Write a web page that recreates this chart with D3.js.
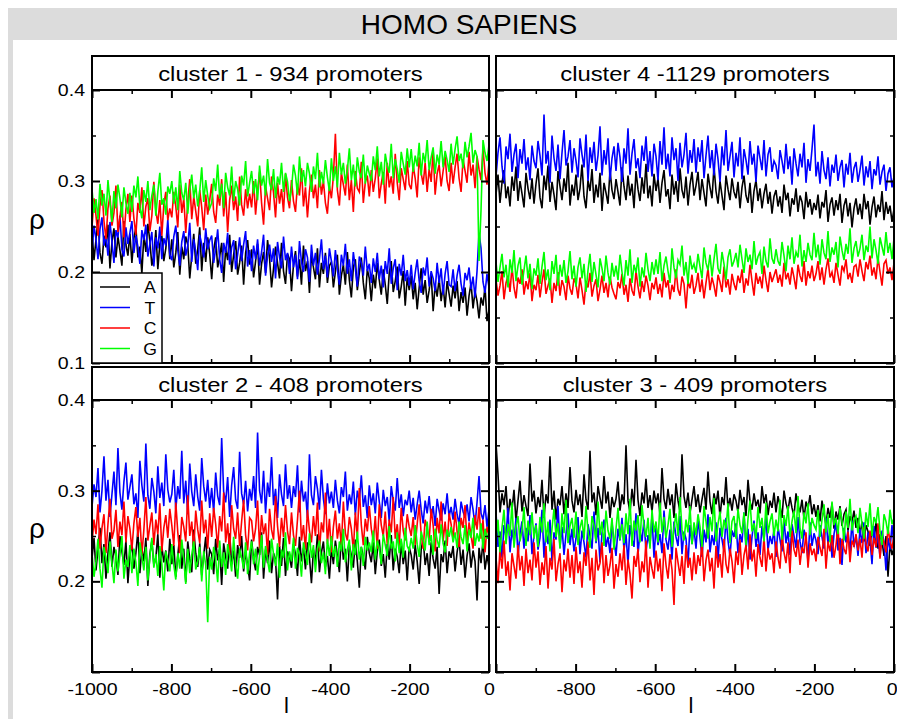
<!DOCTYPE html>
<html><head><meta charset="utf-8">
<script src="https://cdn.jsdelivr.net/npm/d3@7"></script>
<style>
body{margin:0;background:#fff}
svg{display:block}
text{font-family:"Liberation Sans",Arial,Helvetica,sans-serif;fill:#000}
</style>
</head><body>
<svg id="chart" width="897" height="719"></svg>
<script>
// ---------------- DATA (ρ values ×1000, positions l from -1000 to 0) ----------------
const mainTitle = "HOMO SAPIENS";
const nucleotides = ["A", "T", "C", "G"];
const seriesColors = ["#000000", "#0000ff", "#ff0000", "#00ff00"];
const panelTitles = ["cluster 1 - 934 promoters", "cluster 4 -1129 promoters", "cluster 2 - 408 promoters", "cluster 3 - 409 promoters"];
const xMajorTicks = [-1000, -800, -600, -400, -200, 0];
const xMinorTicks = [-900, -700, -500, -300, -100];
const yMajorTicks = [0.1, 0.2, 0.3, 0.4];
const yMinorTicks = [0.15, 0.25, 0.35];
const xDomain = [-1000, 0];
const yDomain = [0.1, 0.4];

const cluster1_A = [
245,213,236,258,221,209,240,227,252,204,233,248,216,239,224,207,256,230,218,242,
210,237,249,216,228,198,241,222,253,234,207,219,246,203,231,240,212,226,250,214,
236,205,221,244,197,228,214,239,230,193,218,242,209,225,249,201,232,211,238,220,
192,224,238,205,217,232,189,226,213,241,200,219,234,197,210,229,186,221,235,208,
225,194,212,231,186,209,222,199,235,215,183,204,228,210,193,232,201,187,220,214,
179,208,223,195,214,186,229,201,212,177,219,205,192,226,183,210,198,221,188,207,
211,183,200,219,175,196,208,186,222,191,172,205,214,180,199,216,188,170,203,193,
168,197,182,210,191,175,203,186,165,199,212,178,190,206,171,184,201,163,194,180,
196,170,188,159,183,204,175,191,166,180,198,157,186,173,193,168,185,161,190,176,
162,185,171,190,157,178,166,183,152,174,188,160,179,168,149,172,163,184,146,158];
const cluster1_T = [
222,251,236,214,247,260,229,241,218,255,233,210,246,238,262,225,217,249,231,243,
256,221,240,228,209,246,235,252,217,231,244,206,238,226,250,214,237,229,258,219,
213,239,251,224,207,233,245,218,229,254,211,236,222,202,241,230,216,248,225,235,
240,210,226,247,214,199,232,221,243,208,227,235,203,219,238,212,230,245,206,224,
201,229,214,236,207,222,241,196,218,230,211,226,193,233,216,204,239,213,221,198,
228,205,219,192,234,211,200,225,216,189,230,207,221,197,214,236,203,218,194,226,
212,195,224,203,186,219,207,231,198,214,190,222,204,184,217,210,196,228,201,209,
188,215,200,221,192,207,183,212,198,226,187,204,214,180,209,196,219,190,202,185,
208,181,199,214,190,177,205,196,216,184,201,193,179,210,188,204,175,198,212,186,
184,203,179,196,208,187,174,199,191,205,181,195,172,201,243,226,189,177,198,183];
const cluster1_C = [
249,281,262,240,273,290,256,236,270,284,251,265,295,244,260,277,238,269,286,255,
284,259,241,276,265,293,250,272,281,245,262,299,267,253,279,240,274,288,257,270,
260,288,272,249,296,265,281,243,276,302,258,283,267,250,290,271,246,285,263,279,
297,266,254,285,273,302,261,288,244,279,295,268,283,256,305,274,262,291,270,286,
271,300,263,289,310,276,252,294,281,268,305,287,260,298,275,291,266,308,282,270,
301,278,266,297,284,314,272,293,260,289,307,281,296,270,312,285,300,276,264,295,
281,305,352,290,273,309,296,284,318,279,301,266,311,292,288,321,276,299,306,283,
312,288,303,325,281,297,310,275,320,293,305,286,330,298,279,314,302,290,322,296,
291,317,303,282,326,309,296,320,288,313,299,334,285,308,318,294,311,327,300,289,
320,297,315,330,303,288,324,311,298,332,306,318,292,327,313,301,335,309,296,320];
const cluster1_G = [
291,265,280,258,297,273,286,262,301,277,255,289,270,296,281,260,293,276,264,287,
266,295,282,305,271,259,290,277,300,268,284,296,262,288,309,274,281,263,294,286,
300,275,293,268,311,287,279,298,264,290,307,281,296,272,289,315,277,301,284,270,
276,303,289,318,281,297,270,309,293,284,316,278,300,291,273,306,295,322,283,298,
311,286,302,279,317,295,306,284,324,298,290,313,281,305,296,320,288,309,299,278,
291,318,306,285,327,299,312,294,320,308,288,316,302,331,293,310,297,323,304,289,
325,300,316,293,331,307,320,297,312,336,301,318,294,326,310,303,329,297,317,308,
300,327,312,338,305,321,296,330,317,309,341,303,324,313,298,332,319,307,336,315,
335,310,328,316,342,306,331,320,345,312,326,337,308,329,318,344,315,333,323,310,
341,318,335,349,322,330,314,343,326,338,353,320,334,327,212,268,345,331,322,340];

const cluster4_A = [
285,307,276,298,312,281,294,272,305,289,316,278,300,286,271,309,292,280,303,275,
297,314,282,270,306,290,317,277,299,285,268,311,294,279,303,288,320,273,296,284,
307,279,292,318,283,270,301,289,313,276,296,282,309,267,298,287,275,312,290,280,
302,288,273,315,294,279,306,284,297,270,311,291,278,304,286,319,281,295,272,308,
289,303,276,298,312,283,291,269,307,285,300,277,314,290,281,305,273,296,310,284,
295,310,279,302,287,272,308,293,281,316,289,275,300,284,268,306,291,279,303,288,
281,299,270,293,306,284,276,298,265,289,301,278,292,270,286,297,275,288,264,283,
290,272,283,265,296,279,287,261,281,274,292,266,284,277,258,288,271,280,263,276,
268,285,259,277,271,290,255,274,282,262,279,268,286,254,273,281,261,276,249,270,
281,263,275,258,286,269,278,252,271,283,260,274,266,289,257,277,264,273,255,269];
const cluster4_T = [
305,331,348,316,297,338,324,352,310,329,341,303,335,319,346,312,326,301,339,322,
314,344,328,306,373,319,333,298,350,325,311,340,302,331,356,317,327,345,309,336,
322,304,347,329,315,351,300,337,320,343,311,328,360,306,334,318,347,301,325,338,
311,342,326,299,336,319,358,307,330,346,314,325,303,339,322,349,310,333,305,341,
327,301,344,318,359,313,330,305,348,323,336,300,342,315,329,353,308,334,320,346,
309,337,321,345,303,328,350,314,334,306,341,324,299,338,317,356,311,327,343,304,
331,316,348,302,335,323,307,344,318,330,299,339,325,312,345,305,329,337,310,322,
317,302,334,322,308,341,313,327,296,336,319,305,330,315,342,298,324,311,335,362,
305,321,297,333,312,302,326,294,318,309,329,300,315,323,293,319,307,331,298,314,
321,299,312,328,295,316,304,322,291,313,306,327,296,310,318,289,308,315,293,305];
const cluster4_C = [
192,174,185,201,170,188,196,178,206,183,171,194,187,203,175,190,181,199,168,186,
180,197,172,189,203,176,185,193,166,188,179,200,174,191,184,169,196,182,175,193,
187,171,194,180,164,190,183,199,173,185,192,168,181,196,177,188,172,195,183,176,
170,189,182,198,175,186,167,193,180,174,201,184,171,190,178,196,185,169,188,181,
194,176,187,172,199,183,191,170,186,178,203,181,174,195,187,160,190,182,197,176,
185,199,178,192,171,188,204,180,194,185,173,197,189,178,206,183,192,175,198,187,
180,196,188,203,177,193,185,208,190,174,199,187,195,182,207,191,178,200,189,196,
203,188,197,184,210,192,199,186,205,194,181,208,196,189,212,185,201,193,207,190,
198,212,191,205,186,203,215,194,200,188,210,197,185,207,201,214,192,199,188,206,
208,195,214,201,190,211,203,218,196,205,192,216,200,185,209,213,198,205,191,210];
const cluster4_G = [
211,189,205,220,194,208,183,214,199,224,190,207,216,186,202,218,193,209,181,204,
196,215,187,206,222,191,203,180,212,198,219,185,208,195,213,188,201,223,192,207,
184,205,216,193,209,178,202,220,189,211,197,183,215,204,190,218,199,186,210,195,
207,191,219,200,185,213,196,225,188,208,199,216,184,205,194,221,203,190,211,197,
214,198,222,190,207,217,201,188,226,205,193,213,208,229,196,211,187,218,203,209,
199,220,206,193,227,210,202,219,195,214,231,204,198,222,209,191,216,225,206,212,
221,205,230,214,199,226,211,219,203,234,208,217,222,198,228,212,205,237,215,209,
225,212,207,233,218,201,229,214,238,209,222,216,241,206,224,211,232,219,213,243,
216,230,208,236,221,214,245,211,227,219,233,205,239,224,213,231,220,248,210,226,
234,217,226,241,213,229,222,250,215,236,224,209,238,228,218,244,221,232,214,237];

const cluster2_A = [
225,248,212,236,259,220,241,203,231,254,216,238,227,207,250,233,218,245,198,229,
243,214,231,256,209,237,222,248,195,230,245,218,226,252,204,239,221,234,211,247,
219,240,205,228,251,214,236,199,244,225,210,257,231,216,242,207,229,249,213,235,
230,208,247,223,236,196,242,227,214,253,219,234,205,240,226,250,211,232,218,201,
246,224,212,238,229,254,203,235,220,245,209,231,224,180,239,217,248,206,233,227,
215,241,230,206,249,222,237,213,243,226,198,235,221,252,210,232,244,216,228,203,
237,219,245,228,210,251,224,236,200,240,229,215,246,222,193,238,226,213,249,231,
221,243,208,233,246,217,230,204,241,224,251,212,236,227,209,244,219,234,201,238,
229,213,240,222,197,235,247,218,231,206,243,225,214,238,186,230,221,245,209,233,
226,239,211,232,247,218,235,204,228,242,215,234,222,179,237,220,245,213,229,216];
const cluster2_T = [
282,307,293,325,276,300,338,289,312,271,296,321,284,347,298,279,310,331,290,304,
318,285,297,270,333,306,288,352,295,280,314,299,275,327,292,309,283,340,301,287,
296,323,279,305,291,344,286,311,274,330,299,283,318,293,278,336,305,288,312,281,
303,276,320,294,284,358,299,287,315,271,306,326,290,280,343,297,285,311,277,302,
289,316,281,364,300,286,322,275,309,293,337,284,302,270,318,296,283,329,291,306,
281,305,293,328,276,311,288,299,270,340,295,284,316,302,279,323,291,274,308,286,
299,281,312,289,275,304,293,321,278,296,285,310,273,300,288,317,282,295,270,306,
284,297,275,309,288,270,301,283,293,266,305,289,278,314,281,296,272,290,284,300,
276,292,268,285,300,279,264,289,275,294,270,283,261,291,278,267,286,274,297,271,
282,268,291,274,263,288,277,270,285,266,293,279,262,287,316,275,268,284,260,279];
const cluster2_C = [
241,268,252,285,236,259,274,231,263,291,247,256,279,238,266,251,288,243,272,258,
235,264,282,249,270,229,257,293,245,261,276,240,268,252,286,233,259,273,248,280,
262,239,287,254,231,271,260,244,295,250,266,235,278,257,242,289,253,268,236,275,
249,281,263,237,272,255,298,243,264,230,284,258,247,276,239,266,290,251,234,270,
267,244,258,289,236,273,252,264,229,280,257,246,294,261,238,270,249,284,255,241,
276,251,239,268,300,245,262,235,279,256,243,272,250,287,233,265,254,298,241,269,
232,260,278,247,264,239,288,253,245,271,258,234,276,249,303,262,240,269,255,283,
258,244,272,236,285,262,250,277,241,268,254,293,247,263,238,281,256,245,274,260,
250,271,240,263,285,252,236,268,258,245,280,262,233,270,253,288,244,266,239,275,
263,246,277,255,238,270,259,284,242,265,251,236,273,257,282,247,268,232,260,251];
const cluster2_G = [
231,205,222,247,214,193,238,226,209,244,220,198,235,211,229,250,203,224,216,240,
209,236,221,195,243,228,212,238,201,226,248,215,230,206,239,219,190,233,224,211,
241,218,202,231,214,246,225,197,236,209,229,244,213,222,238,200,233,218,155,227,
213,238,224,199,245,216,232,207,241,228,211,249,220,203,236,226,214,243,208,231,
244,219,236,207,228,251,215,239,223,210,247,230,217,242,204,235,226,254,212,233,
222,248,214,237,229,205,243,231,218,253,226,240,210,236,245,220,232,208,247,228,
250,227,239,216,244,233,258,221,235,246,212,241,229,255,224,238,217,249,234,243,
232,256,224,245,237,219,252,240,228,261,236,244,222,254,231,247,226,259,239,234,
248,236,262,241,227,255,245,234,266,240,251,229,258,246,237,263,242,232,257,249,
260,243,254,237,266,249,241,262,233,257,248,270,239,253,244,264,236,258,247,255];

const cluster3_A = [
352,318,276,297,284,305,270,291,279,301,266,289,311,277,295,283,272,330,288,300,
275,293,282,312,270,296,286,338,279,300,268,291,284,305,274,297,281,326,289,276,
301,284,296,271,318,290,279,344,287,298,273,305,292,280,316,286,299,270,293,282,
291,310,278,296,285,350,289,276,302,283,334,290,272,298,286,313,281,295,277,300,
286,297,273,325,291,280,302,284,296,270,308,289,277,340,294,281,298,275,290,305,
282,296,276,290,303,279,321,288,274,297,285,300,271,293,284,315,280,292,278,296,
289,276,301,284,293,272,312,288,279,297,283,290,275,305,286,296,273,289,281,298,
276,294,283,270,300,286,278,293,281,272,297,284,276,290,269,288,280,295,274,285,
271,284,266,289,275,262,281,270,286,258,277,268,283,261,274,279,256,272,265,278,
259,270,251,266,244,262,255,239,258,247,265,236,252,244,228,250,205,241,229,238];
const cluster3_T = [
276,238,255,226,262,249,281,232,257,243,270,228,252,266,236,259,244,273,230,251,
264,235,248,279,226,256,241,268,222,254,246,283,237,260,229,252,275,240,258,233,
247,271,230,256,243,226,263,250,236,277,242,259,221,253,268,238,249,231,265,244,
228,258,245,270,234,252,219,262,247,238,275,229,256,244,268,233,251,240,273,226,
261,240,252,231,278,246,235,257,224,266,249,239,272,230,255,247,218,262,241,258,
236,269,248,227,257,243,274,232,251,240,265,222,259,246,233,270,245,228,256,249,
264,231,252,243,276,235,258,224,249,267,238,254,229,261,245,272,234,250,241,257,
227,260,246,233,268,242,255,229,263,250,237,271,244,231,257,248,222,265,239,253,
245,230,262,249,236,270,241,257,226,252,265,234,248,218,259,243,256,231,267,238,
250,228,258,242,265,231,254,246,219,261,237,250,227,256,243,212,248,235,262,240];
const cluster3_C = [
226,198,235,214,245,206,222,190,231,217,203,240,212,228,195,236,209,224,201,243,
215,233,196,221,207,239,192,226,213,247,200,219,231,188,224,211,236,204,229,197,
238,209,222,193,232,217,244,201,226,185,235,212,220,243,198,229,206,218,237,192,
219,205,231,212,240,196,224,208,181,228,216,236,199,222,210,245,193,227,214,203,
234,211,225,189,242,218,203,230,213,174,237,221,206,228,197,240,215,226,201,232,
208,229,217,244,200,223,235,211,226,192,239,215,230,204,247,219,209,236,222,198,
233,218,246,207,229,240,213,252,222,235,205,241,226,216,249,211,237,224,231,209,
244,226,214,251,232,220,243,209,256,235,227,246,218,238,231,254,215,242,229,236,
222,249,237,228,258,214,244,233,251,226,240,261,219,247,236,230,255,221,245,239,
252,234,247,226,260,241,233,256,229,248,238,264,225,250,243,232,259,244,236,251];
const cluster3_G = [
245,268,232,259,279,241,263,250,287,237,260,272,244,256,282,239,267,251,276,247,
262,238,271,254,286,243,266,233,258,280,249,264,236,275,253,290,242,261,270,248,
277,240,259,268,246,283,255,237,272,262,244,288,251,266,239,278,256,247,270,235,
258,281,246,263,242,275,252,291,239,267,256,273,243,284,261,249,270,236,279,254,
266,243,287,254,271,248,262,280,238,259,275,250,293,257,245,268,254,283,241,265,
251,274,260,238,283,266,247,271,255,292,244,263,277,249,268,258,286,242,266,272,
247,280,262,253,276,240,269,289,255,264,247,282,259,270,244,287,253,266,275,250,
268,255,290,246,273,261,283,249,266,278,253,294,259,247,276,264,286,251,270,262,
257,279,249,268,285,254,274,243,288,262,270,252,281,266,245,277,259,291,256,268,
272,253,281,263,247,276,260,286,250,271,264,282,255,240,274,266,252,279,263,270];

const panelSeries = [
  [cluster1_A, cluster1_T, cluster1_C, cluster1_G],
  [cluster4_A, cluster4_T, cluster4_C, cluster4_G],
  [cluster2_A, cluster2_T, cluster2_C, cluster2_G],
  [cluster3_A, cluster3_T, cluster3_C, cluster3_G]
];

// ---------------- LAYOUT ----------------
const W = 897, H = 719;
const cols = [{x0: 92, x1: 489}, {x0: 496, x1: 894}];
const rows = [{titleTop: 56, top: 90, bottom: 363}, {titleTop: 367, top: 400, bottom: 672}];
const panelPos = [{c: 0, r: 0}, {c: 1, r: 0}, {c: 0, r: 1}, {c: 1, r: 1}];

const svg = d3.select("#chart");
svg.append("rect").attr("x", 0).attr("y", 0).attr("width", W).attr("height", H).attr("fill", "#fff");
svg.append("rect").attr("x", 8).attr("y", 8).attr("width", W - 8).attr("height", H - 8).attr("fill", "#dcdcdc");
svg.append("rect").attr("x", 13).attr("y", 40).attr("width", W - 13).attr("height", H - 40).attr("fill", "#fff");

svg.append("text").attr("x", 469).attr("y", 34).attr("text-anchor", "middle")
  .attr("font-size", 28).attr("fill", "#111").text(mainTitle);

function stretch(sel, f) {
  sel.each(function () {
    const len = this.getComputedTextLength();
    if (len > 0) d3.select(this).attr("textLength", len * f).attr("lengthAdjust", "spacingAndGlyphs");
  });
}

const fmtY = d3.format(".1f");

panelPos.forEach((p, pi) => {
  const col = cols[p.c], row = rows[p.r];
  const x = d3.scaleLinear().domain(xDomain).range([col.x0, col.x1]);
  const y = d3.scaleLinear().domain(yDomain).range([row.bottom, row.top]);
  const g = svg.append("g");

  // title box
  g.append("rect").attr("x", col.x0).attr("y", row.titleTop).attr("width", col.x1 - col.x0)
    .attr("height", row.top - row.titleTop).attr("fill", "#fff").attr("stroke", "#000").attr("stroke-width", 2);
  const tt = g.append("text").attr("x", (col.x0 + col.x1) / 2).attr("y", row.titleTop + 25)
    .attr("text-anchor", "middle").attr("font-size", 20).attr("fill", "#111").text(panelTitles[pi]);
  stretch(tt, 1.19);

  // clip
  const cid = "clip" + pi;
  svg.append("clipPath").attr("id", cid).append("rect")
    .attr("x", col.x0).attr("y", row.top).attr("width", col.x1 - col.x0).attr("height", row.bottom - row.top);

  const lines = g.append("g").attr("clip-path", `url(#${cid})`);
  const line = d3.line().x(d => x(d[0])).y(d => y(d[1]));
  panelSeries[pi].forEach((vals, si) => {
    const n = vals.length;
    const pts = vals.map((v, i) => [xDomain[0] + i * (xDomain[1] - xDomain[0]) / (n - 1), v / 1000]);
    lines.append("path").datum(pts).attr("d", line).attr("fill", "none")
      .attr("stroke", seriesColors[si]).attr("stroke-width", 1.6).attr("stroke-linejoin", "miter");
  });

  // axes: ticks inward on all four sides
  const showX = p.r === 1, showY = p.c === 0;
  const xTickFmt = d => (showX && !(p.c === 1 && d === -1000)) ? String(d) : "";
  const yTickFmt = d => (showY && !(p.r === 1 && d === 0.1)) ? fmtY(d) : "";

  const ax = [];
  ax.push(g.append("g").attr("transform", `translate(0,${row.bottom})`)
    .call(d3.axisBottom(x).tickValues(xMajorTicks).tickSize(-8).tickPadding(11).tickFormat(xTickFmt)));
  ax.push(g.append("g").attr("transform", `translate(0,${row.bottom})`)
    .call(d3.axisBottom(x).tickValues(xMinorTicks).tickSize(-4).tickFormat("")).attr("class", "minor"));
  ax.push(g.append("g").attr("transform", `translate(0,${row.top})`)
    .call(d3.axisTop(x).tickValues(xMajorTicks).tickSize(-8).tickFormat("")));
  ax.push(g.append("g").attr("transform", `translate(0,${row.top})`)
    .call(d3.axisTop(x).tickValues(xMinorTicks).tickSize(-4).tickFormat("")).attr("class", "minor"));
  ax.push(g.append("g").attr("transform", `translate(${col.x0},0)`)
    .call(d3.axisLeft(y).tickValues(yMajorTicks).tickSize(-8).tickPadding(7).tickFormat(yTickFmt)));
  ax.push(g.append("g").attr("transform", `translate(${col.x0},0)`)
    .call(d3.axisLeft(y).tickValues(yMinorTicks).tickSize(-4).tickFormat("")).attr("class", "minor"));
  ax.push(g.append("g").attr("transform", `translate(${col.x1},0)`)
    .call(d3.axisRight(y).tickValues(yMajorTicks).tickSize(-8).tickFormat("")));
  ax.push(g.append("g").attr("transform", `translate(${col.x1},0)`)
    .call(d3.axisRight(y).tickValues(yMinorTicks).tickSize(-4).tickFormat("")).attr("class", "minor"));
  ax.forEach(a => {
    a.select(".domain").remove();
    const minor = a.classed("minor");
    a.selectAll(".tick line").attr("stroke", "#000").attr("stroke-width", minor ? 1.5 : 2);
    a.selectAll("text").attr("font-size", 17).attr("fill", "#111")
      .style("font-family", '"Liberation Sans",Arial,Helvetica,sans-serif');
    stretch(a.selectAll("text"), 1.15);
  });
  // keep the right-most "0" label inside the page
  if (showX && p.c === 1) {
    ax[0].selectAll(".tick").filter(d => d === 0).select("text").attr("text-anchor", "end").attr("x", 3);
  }

  // frame
  g.append("rect").attr("x", col.x0).attr("y", row.top).attr("width", col.x1 - col.x0)
    .attr("height", row.bottom - row.top).attr("fill", "none").attr("stroke", "#000").attr("stroke-width", 2);

  // legend (cluster 1 panel)
  if (pi === 0) {
    const lg = g.append("g");
    lg.append("rect").attr("x", col.x0).attr("y", y(0.2) + 1).attr("width", 70).attr("height", row.bottom - y(0.2) - 1)
      .attr("fill", "#fff").attr("stroke", "#000").attr("stroke-width", 1.5);
    nucleotides.forEach((nm, i) => {
      const ly = y(0.2) + 15 + i * 20.5;
      lg.append("line").attr("x1", col.x0 + 8).attr("x2", col.x0 + 38).attr("y1", ly).attr("y2", ly)
        .attr("stroke", seriesColors[i]).attr("stroke-width", 1.5);
      const t = lg.append("text").attr("x", col.x0 + 58).attr("y", ly + 6).attr("text-anchor", "middle")
        .attr("font-size", 16).text(nm);
      stretch(t, 1.1);
    });
  }

  // axis labels
  if (showY) {
    svg.append("text").attr("x", 37).attr("y", (row.top + row.bottom) / 2 + 2).attr("text-anchor", "middle")
      .attr("font-size", 28).text("ρ");
  }
  if (showX) {
    svg.append("text").attr("x", (col.x0 + col.x1) / 2 - 4).attr("y", 713).attr("text-anchor", "middle")
      .attr("font-size", 22).text("l");
  }
});
</script>
</body></html>
